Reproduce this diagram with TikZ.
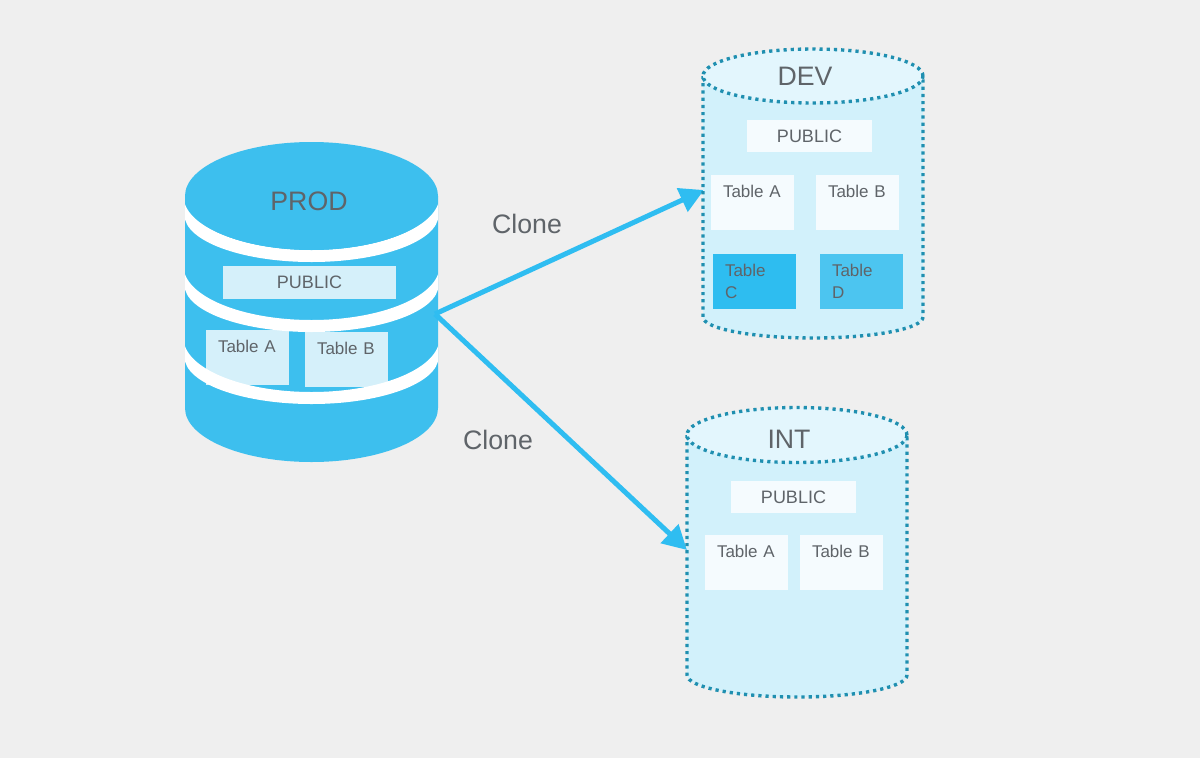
\documentclass[tikz,border=0pt]{standalone}
\usepackage{fontspec}
\setmainfont{Liberation Sans}
\usetikzlibrary{arrows.meta}

\definecolor{bgcol}{HTML}{EFEFEF}
\definecolor{prodcol}{HTML}{3DBFEE}
\definecolor{arrowcol}{HTML}{2FBDF1}
\definecolor{dotcol}{HTML}{1F8FB0}
\definecolor{bodycol}{HTML}{D2F1FB}
\definecolor{lidcol}{HTML}{E3F6FD}
\definecolor{palebox}{HTML}{D5F0FA}
\definecolor{whitebox}{HTML}{F5FBFE}
\definecolor{tablec}{HTML}{2EBDF0}
\definecolor{tabled}{HTML}{4CC5F0}
\definecolor{textcol}{HTML}{5F6469}

\tikzset{
    tablebox/.style={anchor=north west, fill=whitebox, text=textcol, font=\fontsize{17}{21.5}\selectfont,
        text width=59pt, align=left, inner xsep=12pt, inner ysep=0pt, outer sep=0pt,
        text height=22.5pt, text depth=32pt},
    publicbox/.style={anchor=north west, fill=whitebox, text=textcol, font=\fontsize{18}{21}\selectfont,
        minimum width=125pt, minimum height=32pt, inner sep=0pt, outer sep=0pt},
    dbtitle/.style={text=textcol, font=\fontsize{26.7}{30}\selectfont},
    clonelabel/.style={text=textcol, font=\fontsize{26.7}{30}\selectfont},
    dotline/.style={draw=dotcol, line width=3.4pt, dash pattern=on 3.2pt off 4pt},
    clonearrow/.style={draw=arrowcol, line width=5pt, -{Triangle[length=24pt,width=25pt]}}
}

% white band of the PROD drum, its upper edge centred at #1
\newcommand{\prodband}[1]{
    \fill[white] (183.5,#1) arc[start angle=180, end angle=360, x radius=128pt, y radius=54pt]
        -- ++(-1,19) arc[start angle=0, end angle=-180, x radius=127pt, y radius=47pt] -- cycle;
}

\begin{document}
\begin{tikzpicture}[x=1pt, y=-1pt]

    \def\prodrx{126.5pt}
    \def\lidrx{110pt}

    \fill[bgcol] (0,0) rectangle (1200,758);

    \coordinate (prodout) at (435,314);
    \coordinate (devin) at (704,190);
    \coordinate (intin) at (687,550);

    % PROD
    \fill[prodcol] (185,196) -- (185,408) arc[start angle=180, end angle=360, x radius=\prodrx, y radius=54pt]
        -- (438,196) -- cycle;

    \node[publicbox, fill=palebox, minimum width=173pt, minimum height=33pt] (prodpublic) at (223,266) {PUBLIC};
    \node[tablebox, fill=palebox] (proda) at (206,330) {Table A};
    \node[tablebox, fill=palebox] (prodb) at (305,332) {Table B};

    \begin{scope}
        \clip (185,190) rectangle (438,420);
        \prodband{196}
        \prodband{266}
        \prodband{338}
    \end{scope}

    \fill[prodcol] (311.5,196) ellipse [x radius=\prodrx, y radius=54pt];
    \node[dbtitle] (prodtitle) at (309,201) {PROD};

    \draw[clonearrow] (prodout) -- (devin);
    \draw[clonearrow] (prodout) -- (intin);

    \node[clonelabel] (clonedev) at (527,224) {Clone};
    \node[clonelabel] (cloneint) at (498,440) {Clone};

    % DEV
    \fill[bodycol] (703,76) -- (703,317) arc[start angle=180, end angle=360, x radius=\lidrx, y radius=21pt]
        -- (923,76) -- cycle;
    \draw[dotline] (703,76) -- (703,317) arc[start angle=180, end angle=360, x radius=\lidrx, y radius=21pt]
        -- (923,76);
    \draw[dotline, fill=lidcol] (813,76) ellipse [x radius=\lidrx, y radius=27pt];
    \node[dbtitle] (devtitle) at (805,76) {DEV};

    \node[publicbox] (devpublic) at (747,120) {PUBLIC};
    \node[tablebox] (deva) at (711,175) {Table A};
    \node[tablebox] (devb) at (816,175) {Table B};
    \node[tablebox, fill=tablec] (devc) at (713,254) {Table\\C};
    \node[tablebox, fill=tabled] (devd) at (820,254) {Table\\D};

    % INT
    \fill[bodycol] (687,435) -- (687,675) arc[start angle=180, end angle=360, x radius=\lidrx, y radius=22pt]
        -- (907,435) -- cycle;
    \draw[dotline] (687,435) -- (687,675) arc[start angle=180, end angle=360, x radius=\lidrx, y radius=22pt]
        -- (907,435);
    \draw[dotline, fill=lidcol] (797,435) ellipse [x radius=\lidrx, y radius=27.5pt];
    \node[dbtitle] (inttitle) at (789,439) {INT};

    \node[publicbox] (intpublic) at (731,481) {PUBLIC};
    \node[tablebox] (inta) at (705,535) {Table A};
    \node[tablebox] (intb) at (800,535) {Table B};

\end{tikzpicture}
\end{document}
